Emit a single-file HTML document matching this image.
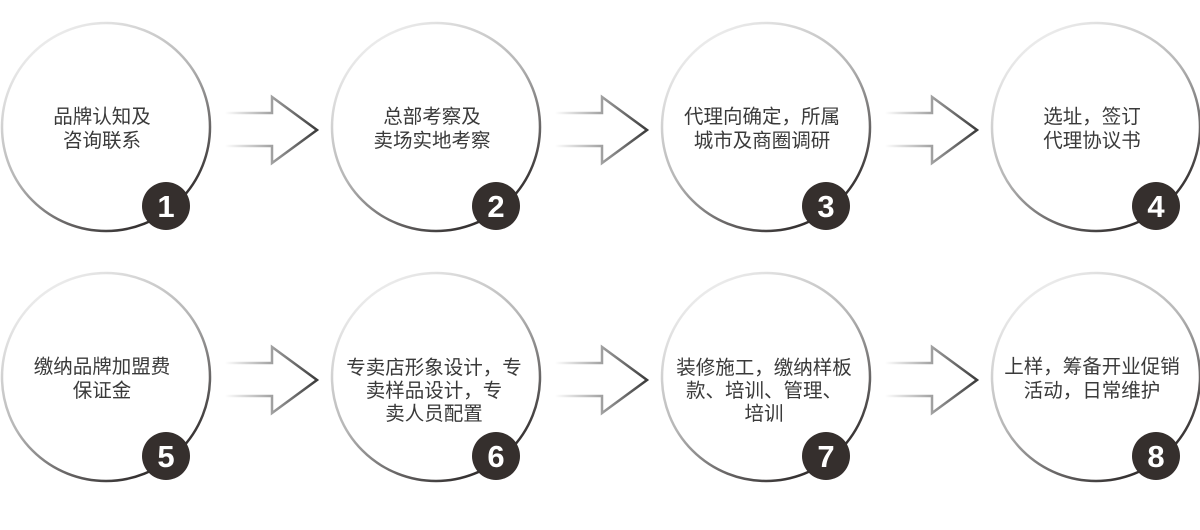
<!DOCTYPE html>
<html><head><meta charset="utf-8"><style>
html,body{margin:0;padding:0;background:#fff;width:1200px;height:530px;overflow:hidden}
svg text{font-family:"Liberation Sans","Noto Sans CJK SC",sans-serif;}
</style></head><body>
<svg width="1200" height="530" viewBox="0 0 1200 530" xmlns="http://www.w3.org/2000/svg">
<defs>
<linearGradient id="cg" x1="0.15" y1="0.05" x2="0.75" y2="0.95">
<stop offset="0" stop-color="#f2f2f2"/><stop offset="0.5" stop-color="#b5b5b5"/><stop offset="1" stop-color="#2e2a2a"/>
</linearGradient>
<linearGradient id="ag" x1="225" y1="0" x2="320" y2="0" gradientUnits="userSpaceOnUse">
<stop offset="0" stop-color="#fff"/><stop offset="0.45" stop-color="#aaa"/><stop offset="1" stop-color="#333"/>
</linearGradient>
<g id="circ">
<circle cx="0" cy="0" r="104" fill="#fff" stroke="url(#cg)" stroke-width="2.5"/>
<circle cx="60" cy="79" r="24" fill="#352f2d"/>
</g>
<path id="arr" d="M225 113 H272 V97 L317 130 L272 163 V146 H225" fill="none" stroke="url(#ag)" stroke-width="2.5"/>
</defs>
<g font-size="19.5" fill="#3a3a3a" text-anchor="middle">
<use href="#circ" x="106" y="127"/><use href="#circ" x="436" y="127"/><use href="#circ" x="766" y="127"/><use href="#circ" x="1096" y="127"/>
<use href="#arr"/><use href="#arr" x="330"/><use href="#arr" x="660"/>
<use href="#circ" x="106" y="377"/><use href="#circ" x="436" y="377"/><use href="#circ" x="766" y="377"/><use href="#circ" x="1096" y="377"/>
<use href="#arr" y="250"/><use href="#arr" x="330" y="250"/><use href="#arr" x="660" y="250"/>

<text x="102" y="123">品牌认知及</text><text x="102" y="147">咨询联系</text>
<text x="432" y="123">总部考察及</text><text x="432" y="147">卖场实地考察</text>
<text x="762" y="123">代理向确定，所属</text><text x="762" y="147">城市及商圈调研</text>
<text x="1092" y="123">选址，签订</text><text x="1092" y="147">代理协议书</text>

<text x="102" y="373">缴纳品牌加盟费</text><text x="102" y="397">保证金</text>
<text x="434" y="374">专卖店形象设计，专</text><text x="434" y="397">卖样品设计，专</text><text x="434" y="420">卖人员配置</text>
<text x="764" y="374">装修施工，缴纳样板</text><text x="764" y="397">款、培训、管理、</text><text x="764" y="420">培训</text>
<text x="1092" y="373">上样，筹备开业促销</text><text x="1092" y="397">活动，日常维护</text>
</g>
<g font-size="31" font-weight="bold" fill="#fff" text-anchor="middle">
<text x="166" y="217">1</text><text x="496" y="217">2</text><text x="826" y="217">3</text><text x="1156" y="217">4</text>
<text x="166" y="467">5</text><text x="496" y="467">6</text><text x="826" y="467">7</text><text x="1156" y="467">8</text>
</g>
</svg>
</body></html>
